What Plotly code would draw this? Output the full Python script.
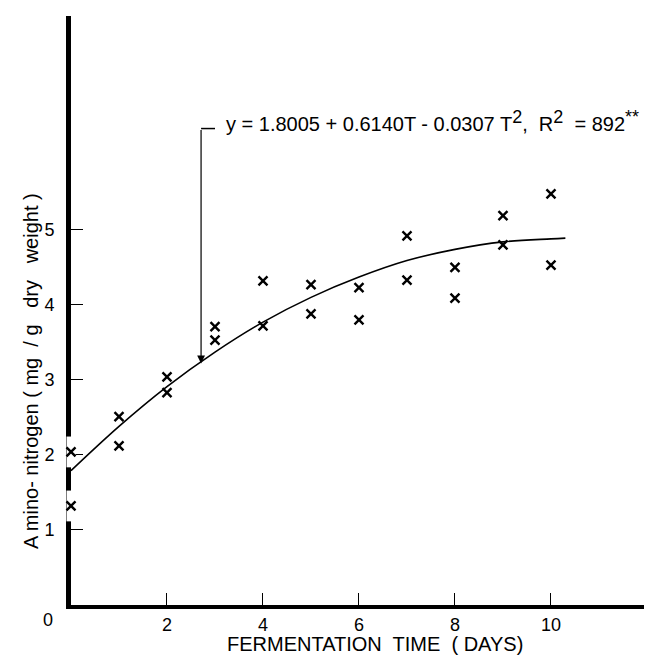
import plotly.graph_objects as go

# observed amino-nitrogen values (two replicates per day)
days = [0, 0, 1, 1, 2, 2, 3, 3, 4, 4, 5, 5, 6, 6, 7, 7, 8, 8, 9, 9, 10, 10]
amino_n = [2.04, 1.32, 2.51, 2.12, 3.04, 2.83, 3.71, 3.53, 4.32, 3.72, 4.27, 3.88,
           4.23, 3.80, 4.92, 4.33, 4.50, 4.09, 5.19, 4.80, 5.48, 4.53]

# fitted curve
fit_t = [0, 1, 2, 3, 4, 5, 6, 7, 8, 9, 10, 10.3]
fit_y = [1.79, 2.38, 2.91, 3.37, 3.77, 4.10, 4.37, 4.59, 4.74, 4.84, 4.88, 4.89]

x_ticks = [2, 4, 6, 8, 10]
y_ticks = [1, 2, 3, 4, 5]

FONT = "Liberation Sans"
W, H = 652, 657
ML, MR, MT, MB = 63, 2, 8, 60


def paper(px, py):
    """pixel position -> paper coordinates"""
    return (px - ML) / (W - ML - MR), (H - MB - py) / (H - MT - MB)


fig = go.Figure()

# white breaks in the y axis where the day-0 points sit
day0 = [(d, v) for d, v in zip(days, amino_n) if d == 0]
fig.add_trace(go.Scatter(
    x=[d for d, v in day0], y=[v for d, v in day0], mode="markers",
    marker=dict(symbol="line-ns", size=22, line=dict(color="white", width=9)),
    cliponaxis=False, hoverinfo="skip"
))

fig.add_trace(go.Scatter(
    x=fit_t, y=fit_y, mode="lines",
    line=dict(color="black", width=1.6, shape="spline"),
    cliponaxis=False
))

fig.add_trace(go.Scatter(
    x=days, y=amino_n, mode="markers",
    marker=dict(symbol="x-thin", size=9, line=dict(color="black", width=2.4)),
    cliponaxis=False
))

# equation label with bracket and arrow to the curve
fig.add_annotation(
    x=2.71, y=3.22, ax=2.71, ay=6.35, xref="x", yref="y", axref="x", ayref="y",
    text="", showarrow=True, arrowhead=2, arrowsize=1.3, arrowwidth=1.2, arrowcolor="black"
)
fig.add_shape(type="line", x0=2.71, x1=3.0, y0=6.35, y1=6.35,
              line=dict(color="black", width=1.5))
sup = '<sup><span style="font-size:18px">%s</span></sup>'
fig.add_annotation(
    x=3.18, y=6.45, xref="x", yref="y", xanchor="left", yanchor="middle",
    text="y = 1.8005 + 0.6140T - 0.0307 T" + sup % "2" + ",\u00a0 R" + sup % "2"
         + "\u00a0 = 892" + sup % "**",
    showarrow=False, font=dict(family=FONT, size=20, color="black")
)

# origin label and axis titles
def label(px, py, text, size, angle=0):
    x, y = paper(px, py)
    fig.add_annotation(x=x, y=y, xref="paper", yref="paper", xanchor="center",
                       yanchor="middle", text=text, textangle=angle, showarrow=False,
                       font=dict(family=FONT, size=size, color="black"))


label(40, 612, "0", 18)
label(367, 636, "FERMENTATION\u00a0 TIME\u00a0 (\u00a0DAYS)", 20)
label(23, 363, "A mino- nitrogen (\u00a0mg\u00a0 /\u00a0g\u00a0\u00a0 dry\u00a0\u00a0 weight )", 20, -90)

fig.update_layout(
    width=W, height=H,
    margin=dict(l=ML, r=MR, t=MT, b=MB),
    paper_bgcolor="white", plot_bgcolor="white",
    showlegend=False,
    font=dict(family=FONT, size=18, color="black"),
    xaxis=dict(
        range=[0, 12.23], tickvals=x_ticks, ticks="inside", ticklen=12, tickwidth=1,
        tickcolor="black", showline=True, linecolor="black", linewidth=4,
        showgrid=False, zeroline=False, layer="below traces",
        tickfont=dict(family=FONT, size=18)
    ),
    yaxis=dict(
        range=[0, 7.85], tickvals=y_ticks, ticks="inside", ticklen=12, tickwidth=1,
        tickcolor="black", showline=True, linecolor="black", linewidth=5,
        showgrid=False, zeroline=False, layer="below traces", ticklabelstandoff=8,
        tickfont=dict(family=FONT, size=18)
    ),
)

fig.write_html("out.html")
